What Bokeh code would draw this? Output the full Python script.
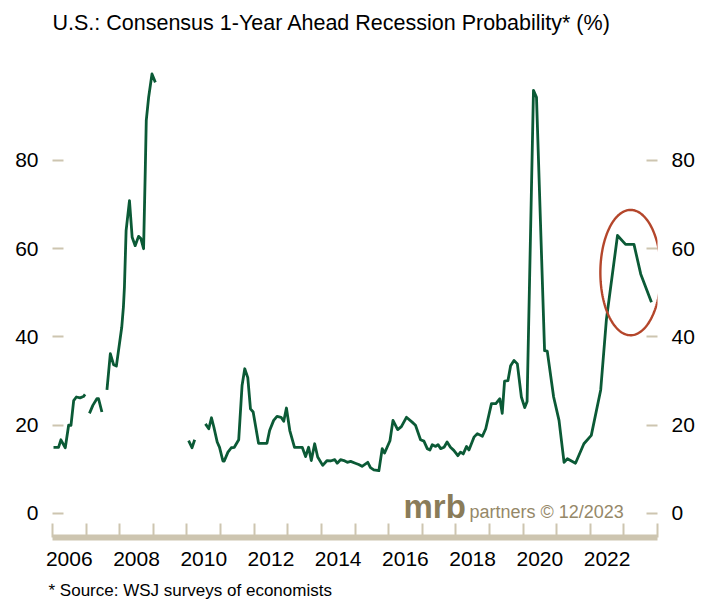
import numpy as np
from bokeh.plotting import figure
from bokeh.models import FixedTicker, Range1d, Label, PolyAnnotation, LinearAxis, Title
from bokeh.embed import file_html
from bokeh.resources import INLINE

nan = float("nan")

# decimal-year dates (nan = survey gap)
dates = [
    2006.03, 2006.18, 2006.25, 2006.38, 2006.48, 2006.55, 2006.63, 2006.71, 2006.82, 2006.92, 2006.97,
    2007.03,
    2007.10, 2007.20, 2007.32, 2007.37, 2007.47,
    2007.55,
    2007.62, 2007.72, 2007.82, 2007.90, 2008.06, 2008.11, 2008.14, 2008.19, 2008.29, 2008.37,
    2008.46, 2008.56, 2008.63, 2008.71, 2008.76, 2008.79, 2008.86, 2008.96, 2009.06,
    2009.5,
    2010.05, 2010.15, 2010.23,
    2010.4,
    2010.55, 2010.65, 2010.73, 2010.80, 2010.90, 2010.97, 2011.07, 2011.11, 2011.22, 2011.32,
    2011.41, 2011.54, 2011.64, 2011.72, 2011.81, 2011.89, 2011.97, 2012.13, 2012.38, 2012.46,
    2012.58, 2012.68, 2012.80, 2012.88, 2012.96, 2013.06, 2013.20, 2013.43, 2013.53, 2013.62,
    2013.70, 2013.80, 2013.89, 2014.04, 2014.17, 2014.27, 2014.40, 2014.47, 2014.57, 2014.67,
    2014.77, 2014.87, 2015.01, 2015.11, 2015.21, 2015.38, 2015.46, 2015.56, 2015.71, 2015.81,
    2015.88, 2016.04, 2016.13, 2016.27, 2016.38, 2016.53, 2016.70, 2016.80, 2016.95, 2017.05,
    2017.15, 2017.23, 2017.30, 2017.40, 2017.47, 2017.55, 2017.65, 2017.74, 2017.84, 2017.94,
    2018.06, 2018.14, 2018.22, 2018.32, 2018.39, 2018.54, 2018.64, 2018.79, 2018.89, 2019.06,
    2019.19, 2019.31, 2019.38, 2019.45, 2019.55, 2019.63, 2019.73, 2019.83, 2019.95, 2020.05,
    2020.12, 2020.31, 2020.40, 2020.64, 2020.72, 2020.91, 2021.07, 2021.22, 2021.32, 2021.56,
    2021.81, 2022.03, 2022.31, 2022.48, 2022.81, 2023.05, 2023.30, 2023.50, 2023.82,
]
probability = [
    15.0, 15.0, 16.7, 14.9, 20.0, 20.0, 25.6, 26.4, 26.2, 26.5, 27.0,
    nan,
    22.7, 24.5, 26.0, 26.0, 23.0,
    nan,
    28.0, 36.2, 33.7, 33.4, 42.2, 46.8, 51.3, 64.1, 70.9, 62.6,
    60.7, 62.8, 62.3, 60.0, 77.7, 89.1, 94.3, 99.6, 97.7,
    nan,
    16.5, 14.9, 16.7,
    nan,
    20.3, 19.2, 21.7, 19.6, 16.2, 15.0, 11.9, 11.9, 13.9, 14.9,
    15.0, 16.7, 29.0, 32.8, 30.8, 23.7, 23.0, 15.9, 15.9, 18.8,
    21.1, 22.0, 21.8, 20.9, 23.9, 18.8, 15.0, 15.0, 12.9, 15.0,
    12.0, 15.8, 12.8, 10.9, 12.0, 11.9, 12.2, 11.4, 12.2, 12.0,
    11.6, 11.8, 11.4, 11.1, 10.7, 11.6, 10.4, 9.9, 9.7, 14.7,
    13.7, 16.5, 21.1, 19.0, 19.7, 21.8, 20.7, 20.0, 16.7, 16.4,
    14.7, 14.4, 15.6, 15.2, 15.6, 14.7, 15.0, 16.2, 15.0, 14.3,
    13.1, 13.9, 13.5, 15.2, 14.4, 17.3, 18.1, 17.5, 19.2, 24.9,
    24.9, 26.0, 22.7, 30.0, 30.1, 33.5, 34.7, 33.9, 26.4, 24.0,
    25.4, 95.9, 94.3, 36.9, 36.8, 26.4, 21.1, 11.6, 12.4, 11.4,
    15.8, 17.7, 28.0, 44.0, 63.0, 61.0, 61.0, 54.3, 47.9,
]

label_years = [2006, 2008, 2010, 2012, 2014, 2016, 2018, 2020, 2022]
year_labels = ["2006", "2008", "2010", "2012", "2014", "2016", "2018", "2020", "2022"]
boundary_years = list(range(2006, 2025))
y_ticks = [0, 20, 40, 60, 80]

title_text = "U.S.: Consensus 1-Year Ahead Recession Probability* (%)"
footnote_text = "* Source: WSJ surveys of economists"
logo_bold = "mrb"
logo_rest = "partners \u00a9 12/2023"

# highlight ellipse (center year, center value, width in years, height in %)
ell_cx, ell_cy, ell_w, ell_h = 2023.20, 54.6, 1.80, 28.4

GREEN = "#0b5a36"
BEIGE = "#cdc5b0"
RUST = "#b4462b"
LOGO = "#8a7c59"
FONT = "Liberation Sans"

p = figure(width=709, height=599, output_backend="svg", toolbar_location=None,
           x_range=Range1d(2006, 2024), y_range=Range1d(-5.44, 102.66),
           min_border_left=52, min_border_right=52, min_border_top=60, min_border_bottom=62)
p.outline_line_color = None
p.xgrid.visible = False
p.ygrid.visible = False
p.background_fill_color = "white"
p.border_fill_color = "white"

# main title (outermost) plus a small spacer title next to the frame
p.title.text = title_text
p.title.align = "left"
p.title.offset = 0
p.title.text_font = FONT
p.title.text_font_size = "21.5px"
p.title.text_font_style = "normal"
p.title.text_color = "black"
p.title.standoff = 12
spacer = Title(text=" ", text_font_size="8px", standoff=9, text_color="white")
p.add_layout(spacer, "above")

p.line(dates, probability, line_color=GREEN, line_width=2.8, line_join="round")

# ellipse outline
t = np.linspace(0, 2 * np.pi, 160)
ex = ell_cx + ell_w / 2 * np.cos(t)
ey = ell_cy + ell_h / 2 * np.sin(t)
p.add_layout(PolyAnnotation(xs=list(ex), ys=list(ey), fill_color=None, fill_alpha=0,
                            line_color=RUST, line_alpha=1.0, line_width=2.4))

# x axis
xa = p.xaxis[0]
xa.ticker = FixedTicker(ticks=[y + 0.5 for y in label_years], minor_ticks=boundary_years)
xa.major_label_overrides = {y + 0.5: lab for y, lab in zip(label_years, year_labels)}
xa.major_tick_in = 0
xa.major_tick_out = 0
xa.minor_tick_in = 14
xa.minor_tick_out = 0
xa.minor_tick_line_color = BEIGE
xa.minor_tick_line_width = 2
xa.axis_line_color = BEIGE
xa.axis_line_width = 6
xa.major_label_standoff = 14
xa.major_label_text_font = FONT
xa.major_label_text_font_size = "21px"
xa.major_label_text_color = "black"

def style_y(ax):
    ax.ticker = FixedTicker(ticks=y_ticks, minor_ticks=[])
    ax.major_tick_in = 11
    ax.major_tick_out = 0
    ax.major_tick_line_color = BEIGE
    ax.major_tick_line_width = 2
    ax.minor_tick_line_color = None
    ax.axis_line_color = None
    ax.major_label_standoff = 14
    ax.major_label_text_font = FONT
    ax.major_label_text_font_size = "21px"
    ax.major_label_text_color = "black"

style_y(p.yaxis[0])
ra = LinearAxis()
style_y(ra)
p.add_layout(ra, "right")

# spacer between axis labels and footnote, then the footnote
gap = Title(text=" ", text_font_size="1px", standoff=7, text_color="white")
p.add_layout(gap, "below")
foot = Title(text=footnote_text, align="left", offset=-4, text_font=FONT,
             text_font_size="17px", text_font_style="normal", text_color="black", standoff=0)
p.add_layout(foot, "below")

# logo (screen units relative to frame bottom-left)
p.add_layout(Label(x=351, y=13, x_units="screen", y_units="screen", text=logo_bold,
                   text_font=FONT, text_font_size="33px", text_font_style="bold",
                   text_color=LOGO, text_baseline="bottom"))
p.add_layout(Label(x=417, y=15.5, x_units="screen", y_units="screen", text=logo_rest,
                   text_font=FONT, text_font_size="18px", text_color="#958868",
                   text_baseline="bottom"))

open("out.html", "w").write(file_html(p, INLINE))
